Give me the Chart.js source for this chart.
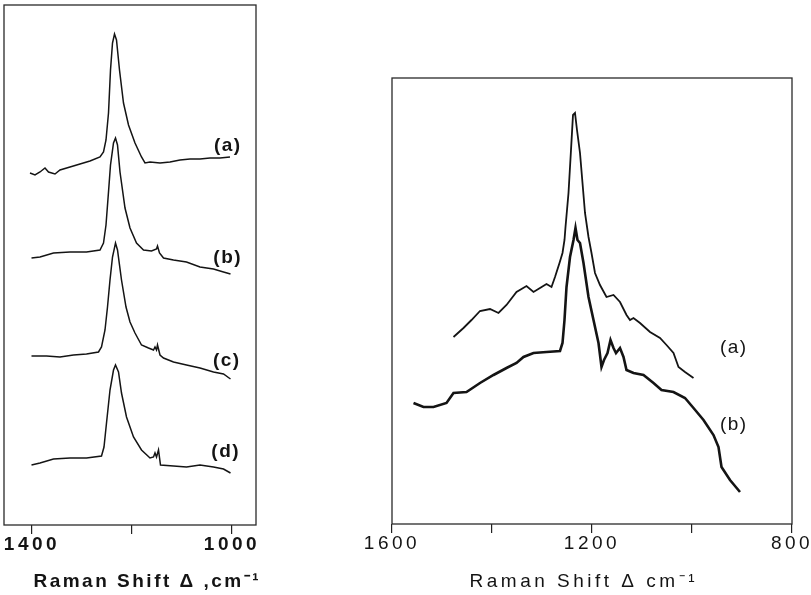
<!DOCTYPE html>
<html><head><meta charset="utf-8">
<script src="https://cdn.jsdelivr.net/npm/chart.js@4"></script>
<style>
html,body{margin:0;padding:0;background:#fff;overflow:hidden;width:811px;height:595px}
#lw{position:absolute;left:0;top:0;width:280px;height:595px}
#rw{position:absolute;left:300px;top:0;width:540px;height:595px}
</style></head><body>
<div id="lw"><canvas id="left"></canvas></div>
<div id="rw"><canvas id="right"></canvas></div>
<script>
// ---------- Left panel data (Raman shift cm-1, intensity arb. units) ----------
const leftAShift = [1404,1394,1384,1374,1367,1354,1344,1324,1304,1284,1264,1257,1252,1247,1243,1239,1235,1231,1225,1217,1207,1194,1181,1174,1164,1144,1124,1104,1084,1064,1044,1024,1004];
const leftAInt   = [352,350,353,357,353,351,355,358,361,364,368,373,385,412,455,482,491,485,455,422,400,382,368,362,363,362,363,365,366,366,367,367,368];
const leftBShift = [1401,1384,1357,1324,1291,1264,1257,1252,1247,1243,1237,1233,1229,1224,1214,1204,1191,1177,1161,1151,1149,1145,1137,1117,1091,1064,1037,1017,1003];
const leftBInt   = [267,268,272,273,273,275,282,300,333,360,382,387,380,353,317,297,282,275,274,276,279,272,267,265,263,258,256,253,251];
const leftCShift = [1401,1371,1344,1317,1291,1267,1261,1254,1249,1244,1239,1233,1229,1221,1212,1204,1194,1181,1167,1157,1154,1151,1149,1144,1137,1117,1091,1064,1037,1017,1003];
const leftCInt   = [169,169,168,170,171,173,178,195,218,245,268,282,275,245,218,203,192,180,177,175,178,175,180,170,167,163,160,157,153,151,146];
const leftDShift = [1401,1384,1357,1324,1291,1261,1256,1251,1244,1237,1233,1227,1221,1211,1197,1181,1164,1157,1154,1151,1147,1143,1117,1091,1064,1037,1017,1003];
const leftDInt   = [60,62,66,67,67,69,78,102,135,155,160,153,132,108,88,75,67,68,72,68,75,60,59,58,60,58,56,52];
const leftTicks = [1400,1200,1000];
const leftTickLabels = ['1400','','1000'];
const leftCurveNames = ['(a)','(b)','(c)','(d)'];
const leftNameShift = [1010,1010,1012,1014];
const leftNameInt = [379,267,164,73];

// ---------- Right panel data ----------
const rightAShift = [1477,1457,1441,1424,1404,1387,1371,1351,1331,1317,1304,1291,1281,1274,1265,1259,1255,1253,1247,1242,1238,1234,1230,1224,1219,1214,1207,1201,1194,1184,1171,1157,1144,1131,1124,1117,1104,1084,1064,1051,1037,1027,1014,997];
const rightAInt   = [187,196,204,213,215,211,219,232,238,232,236,240,237,247,261,271,284,297,331,374,409,411,394,371,341,311,287,271,251,239,227,229,222,209,204,206,201,192,186,179,171,157,152,146];
const rightBShift = [1557,1537,1517,1491,1477,1451,1424,1397,1371,1351,1337,1317,1291,1264,1259,1255,1251,1244,1237,1233,1229,1224,1217,1207,1197,1187,1181,1176,1169,1163,1157,1152,1144,1137,1131,1117,1097,1077,1061,1037,1014,997,977,957,947,941,924,904];
const rightBInt   = [121,117,117,121,131,132,141,149,156,161,167,171,172,173,181,204,237,267,284,296,284,281,261,227,204,181,157,164,171,184,176,171,176,167,154,151,149,141,134,132,126,116,104,89,77,57,44,32];
const rightTicks = [1600,1400,1200,1000,800];
const rightTickLabels = ['1600','','1200','','800'];
const rightCurveNames = ['(a)','(b)'];
const rightNameShift = [918,918];
const rightNameInt = [176,99];

const FONT = "'Liberation Sans', Arial, Helvetica, sans-serif";
const INK = '#141414';
const TXT = 19;

function pts(xs, ys){ return xs.map((x,i)=>({x:x, y:ys[i]})); }

const spacingPlugin = { id:'spacing', beforeDraw(chart){ chart.ctx.letterSpacing = '3.5px'; } };
const framePlugin = { id:'frame', afterDraw(chart){
  const a = chart.chartArea, c = chart.ctx;
  c.save(); c.strokeStyle = '#2a2a2a'; c.lineWidth = 1.3;
  c.strokeRect(a.left, a.top, a.right - a.left, a.bottom - a.top);
  c.restore();
}};
const namesPlugin = { id:'names', afterDatasetsDraw(chart, args, opts){
  const c = chart.ctx, xs = chart.scales.x, ys = chart.scales.y;
  c.save();
  c.font = (opts.weight || 'normal') + ' ' + TXT + 'px ' + FONT;
  c.fillStyle = INK; c.textAlign = 'center'; c.textBaseline = 'middle';
  c.letterSpacing = '1.5px';
  opts.names.forEach((n,i)=>{
    c.fillText(n, xs.getPixelForValue(opts.xs[i]) + 0.75, ys.getPixelForValue(opts.ys[i]));
  });
  c.restore();
}};
const axisTitlePlugin = { id:'axisTitle', afterDraw(chart, args, opts){
  const c = chart.ctx, xs = chart.scales.x;
  c.save();
  c.font = (opts.weight || 'normal') + ' ' + TXT + 'px ' + FONT;
  c.fillStyle = INK; c.textAlign = 'center'; c.textBaseline = 'middle';
  c.letterSpacing = opts.spacing + 'px';
  c.fillText(opts.text, (xs.left + xs.right) / 2 + opts.dx + opts.spacing / 2, xs.bottom - opts.dy);
  c.restore();
}};

function lineDs(xs, ys, w){
  return { data: pts(xs, ys), borderColor: INK, borderWidth: w, pointRadius: 0, tension: 0, fill: false };
}

function makeChart(id, cfg){
  return new Chart(document.getElementById(id), {
    type: 'line',
    data: { datasets: cfg.datasets },
    options: {
      responsive: true, maintainAspectRatio: false, animation: false, events: [],
      layout: { padding: cfg.padding },
      plugins: { legend:{display:false}, tooltip:{enabled:false},
        names: { names: cfg.names, xs: cfg.nameXs, ys: cfg.nameYs, weight: cfg.weight },
        axisTitle: { text: cfg.title, dx: cfg.titleDx, dy: 13, spacing: cfg.titleSpacing, weight: cfg.weight } },
      scales: {
        x: {
          type: 'linear', reverse: true, min: cfg.xmin, max: cfg.xmax,
          afterBuildTicks: s => { s.ticks = cfg.ticks.map(v => ({value: v})); },
          afterFit: s => { s.height = cfg.axisH; },
          ticks: { autoSkip:false, maxRotation:0, padding:-1, color: INK,
                   font:{family:FONT, size:TXT, weight: cfg.weight},
                   callback: (v, i) => cfg.tickLabels[i] },
          grid: { drawOnChartArea:false, drawTicks:true, tickLength:9, color:'#222', lineWidth:1.2 },
          border: { display:false },
          title: { display:false }
        },
        y: { display:false, min:0, max: cfg.ymax }
      }
    },
    plugins: [spacingPlugin, framePlugin, namesPlugin, axisTitlePlugin]
  });
}

makeChart('left', {
  datasets: [
    lineDs(leftAShift, leftAInt, 1.5),
    lineDs(leftBShift, leftBInt, 1.5),
    lineDs(leftCShift, leftCInt, 1.5),
    lineDs(leftDShift, leftDInt, 1.5)
  ],
  padding: {left:4, top:5, right:24, bottom:0},
  xmin: 952, xmax: 1456, ymax: 520, axisH: 70,
  ticks: leftTicks, tickLabels: leftTickLabels,
  title: 'Raman Shift \u0394 ,cm\u207B\u00B9', titleDx: 16, titleSpacing: 2.5, weight: 'bold',
  names: leftCurveNames, nameXs: leftNameShift, nameYs: leftNameInt
});

makeChart('right', {
  datasets: [
    lineDs(rightAShift, rightAInt, 1.8),
    lineDs(rightBShift, rightBInt, 2.6)
  ],
  padding: {left:92, top:78, right:48, bottom:0},
  xmin: 800, xmax: 1600, ymax: 446, axisH: 71,
  ticks: rightTicks, tickLabels: rightTickLabels,
  title: 'Raman Shift \u0394 cm\u207B\u00B9', titleDx: -10, titleSpacing: 3.5, weight: 'normal',
  names: rightCurveNames, nameXs: rightNameShift, nameYs: rightNameInt
});
</script>
</body></html>
